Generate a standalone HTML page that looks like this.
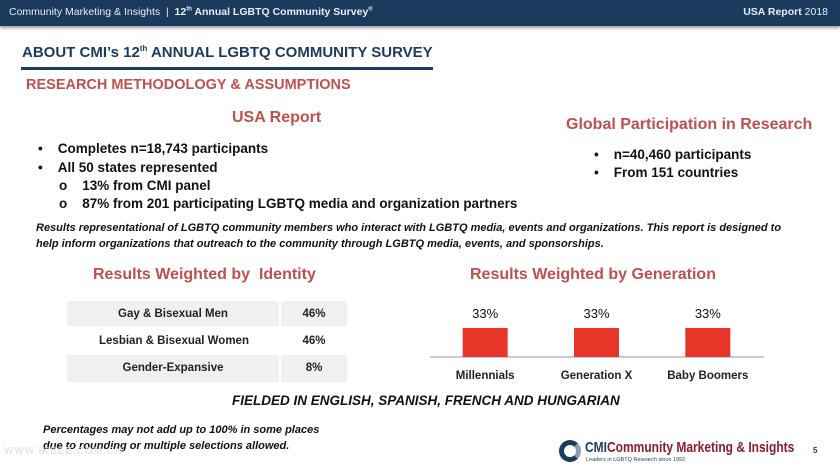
<!DOCTYPE html>
<html><head><meta charset="utf-8"><style>
*{margin:0;padding:0;box-sizing:border-box}
body{width:840px;height:472px;background:#fff;font-family:"Liberation Sans",sans-serif;position:relative;overflow:hidden}
.a{position:absolute;white-space:nowrap}
.b{font-weight:bold}
.red{color:#c0504d}
.li{font-size:13.5px;font-weight:bold;color:#111}
</style></head><body>
<div class="a" style="left:0;top:0;width:840px;height:26px;background:#1b3a5e;box-shadow:0 2px 3px #999"></div>
<div class="a" style="left:9px;top:6px;font-size:10.5px;color:#e8eef5">Community Marketing &amp; Insights &nbsp;| &nbsp;<b>12<sup style="font-size:6px">th</sup> Annual LGBTQ Community Survey<sup style="font-size:6px">®</sup></b></div>
<div class="a" style="right:12px;top:6px;font-size:10.5px;color:#e8eef5"><b>USA Report</b> 2018</div>
<div class="a b" style="left:22px;top:44px;font-size:15px;color:#1b3a5e">ABOUT CMI’s 12<sup style="font-size:8px">th</sup> ANNUAL LGBTQ COMMUNITY SURVEY</div>
<div class="a" style="left:21px;top:67px;width:412px;height:3px;background:#1b3a5e"></div>
<div class="a b red" style="left:26px;top:77px;font-size:14.5px">RESEARCH METHODOLOGY &amp; ASSUMPTIONS</div>
<div class="a b red" style="left:232px;top:109px;font-size:16px">USA Report</div>
<div class="a li" style="left:38px;top:141px">•&nbsp;&nbsp;&nbsp;&nbsp;Completes n=18,743 participants</div>
<div class="a li" style="left:38px;top:160px">•&nbsp;&nbsp;&nbsp;&nbsp;All 50 states represented</div>
<div class="a li" style="left:59px;top:178px">o&nbsp;&nbsp;&nbsp;&nbsp;13% from CMI panel</div>
<div class="a li" style="left:59px;top:196px">o&nbsp;&nbsp;&nbsp;&nbsp;87% from 201 participating LGBTQ media and organization partners</div>
<div class="a b red" style="left:566px;top:116px;font-size:16px">Global Participation in Research</div>
<div class="a li" style="left:594px;top:147px">•&nbsp;&nbsp;&nbsp;&nbsp;n=40,460 participants</div>
<div class="a li" style="left:594px;top:165px">•&nbsp;&nbsp;&nbsp;&nbsp;From 151 countries</div>
<div class="a b" style="left:36px;top:220px;font-size:11px;font-style:italic;line-height:16px;color:#111">Results representational of LGBTQ community members who interact with LGBTQ media, events and organizations. This report is designed to<br>help inform organizations that outreach to the community through LGBTQ media, events, and sponsorships.</div>
<div class="a b red" style="left:93px;top:266px;font-size:16px">Results Weighted by&nbsp; Identity</div>
<div class="a b red" style="left:470px;top:266px;font-size:16px">Results Weighted by Generation</div>
<div class="a" style="left:67px;top:301px;width:280px;font-size:11.5px;font-weight:bold;color:#222">
 <div style="display:flex;height:27px;background:#f0f0f0;border-bottom:2px solid #fff"><div style="width:214px;text-align:center;line-height:27px;border-right:2px solid #fff">Gay &amp; Bisexual Men</div><div style="flex:1;text-align:center;line-height:27px">46%</div></div>
 <div style="display:flex;height:27px;background:#fff;border-bottom:2px solid #fff"><div style="width:214px;text-align:center;line-height:27px">Lesbian &amp; Bisexual Women</div><div style="flex:1;text-align:center;line-height:27px">46%</div></div>
 <div style="display:flex;height:27px;background:#f0f0f0"><div style="width:214px;text-align:center;line-height:27px;border-right:2px solid #fff">Gender-Expansive</div><div style="flex:1;text-align:center;line-height:27px">8%</div></div>
</div>
<svg class="a" id="chart" style="left:0;top:0" width="840" height="472"></svg>
<div class="a b" style="left:232px;top:393px;font-size:13.5px;font-style:italic;color:#111">FIELDED IN ENGLISH, SPANISH, FRENCH AND HUNGARIAN</div>
<div class="a b" style="left:43px;top:422px;font-size:11px;font-style:italic;line-height:16px;color:#111">Percentages may not add up to 100% in some places<br>due to rounding or multiple selections allowed.</div>
<div class="a" style="left:4px;top:446px;font-size:10px;color:#ddd;letter-spacing:1px">WWW.IKBEE.COM.CN</div>
<div class="a" style="left:559px;top:440px;width:22px;height:22px;border-radius:50%;border:5px solid #1b3a5e;border-right-color:#8aa0b8"></div>
<div class="a b" style="left:585px;top:439px;font-size:15px;color:#1b3a5e;transform:scaleX(0.8);transform-origin:left">CMI<span style="color:#8b1c2c">Community Marketing &amp; Insights</span></div>
<div class="a" style="left:586px;top:457px;font-size:5.5px;color:#1b3a5e">Leaders in LGBTQ Research since 1992</div>
<div class="a b" style="left:813px;top:446px;font-size:8px;color:#1b3a5e">5</div>
<script>
const categories=["Millennials","Generation X","Baby Boomers"];
const values=[33,33,33];
const labels=["33%","33%","33%"];
const svg=document.getElementById('chart');
const NS='http://www.w3.org/2000/svg';
const x0=430,x1=764,base=357,scale=29/33,bw=45;
const band=(x1-x0)/categories.length;
function xc(i){return x0+band*(i+0.5)-0.5;}
function y(v){return base-v*scale;}
function mk(t,a){const e=document.createElementNS(NS,t);for(const k in a)e.setAttribute(k,a[k]);svg.appendChild(e);return e;}
const ax=mk('line',{x1:x0,x2:x1,y1:base,y2:base,stroke:'#999','stroke-width':1});


categories.forEach((c,i)=>{
 const r=mk('rect',{x:xc(i)-bw/2,y:y(values[i]),width:bw,height:base-y(values[i]),fill:'#e8352a'});
 
 
 const t=mk('text',{x:xc(i),y:y(values[i])-10,'text-anchor':'middle','font-size':13,'font-family':'Liberation Sans',fill:'#111'});
 t.textContent=labels[i];
 
 
 const l=mk('text',{x:xc(i),y:base+22,'text-anchor':'middle','font-size':11.5,'font-weight':'bold','font-family':'Liberation Sans',fill:'#222'});
 l.textContent=c;
 
 
});
</script>
</body></html>
